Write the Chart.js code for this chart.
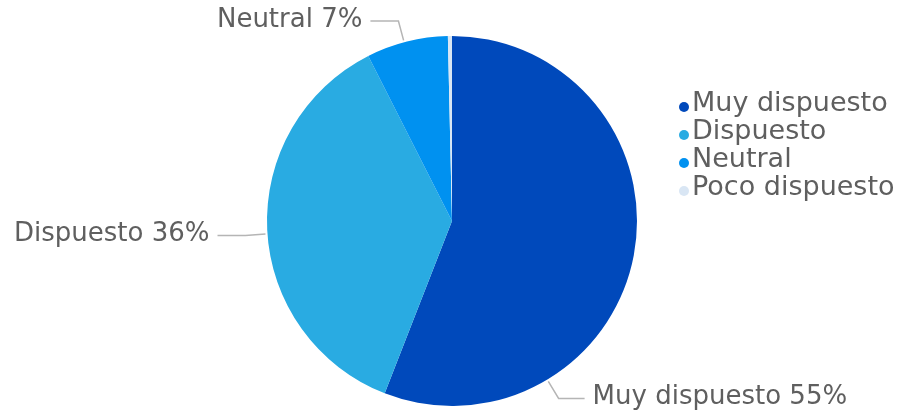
<!DOCTYPE html>
<html>
<head>
<meta charset="utf-8">
<script src="https://cdn.jsdelivr.net/npm/chart.js@4"></script>
<style>
  html, body { margin: 0; padding: 0; background: #fff; }
  canvas { display: block; }
</style>
</head>
<body>
<canvas id="pieChart" width="903" height="413"></canvas>
<script>
const categories = ['Muy dispuesto', 'Dispuesto', 'Neutral', 'Poco dispuesto'];
const shares = [55, 36, 7, 0.35];
const sliceColors = ['#0049BB', '#29ABE2', '#0091F0', '#D9E6F4'];

const FONT = '"DejaVu Sans", sans-serif';
const TEXT_COLOR = '#5f5f5f';

// outside labels with elbow leader lines
const outsideLabels = {
  id: 'outsideLabels',
  afterDatasetsDraw(chart, args, opts) {
    const ctx = chart.ctx;
    const meta = chart.getDatasetMeta(0);
    ctx.save();
    ctx.font = opts.fontSize + 'px ' + FONT;
    ctx.textBaseline = 'middle';
    meta.data.forEach((arc, i) => {
      if (!opts.show[i]) return;
      const { x, y, outerRadius, startAngle, endAngle } = arc.getProps(['x', 'y', 'outerRadius', 'startAngle', 'endAngle'], true);
      let a = (startAngle + endAngle) / 2;
      if (opts.angle[i] != null) a = (opts.angle[i] - 90) * Math.PI / 180;
      const p0 = { x: x + Math.cos(a) * (outerRadius + 2), y: y + Math.sin(a) * (outerRadius + 2) };
      const p1 = { x: x + Math.cos(a) * (outerRadius + 22), y: y + Math.sin(a) * (outerRadius + 22) };
      const right = Math.cos(a) >= 0;
      const p2 = { x: p1.x + (right ? 26 : -28), y: p1.y };
      ctx.strokeStyle = '#b5b5b5';
      ctx.lineWidth = 1.5;
      ctx.beginPath();
      ctx.moveTo(p0.x, p0.y);
      ctx.lineTo(p1.x, p1.y);
      ctx.lineTo(p2.x, p2.y);
      ctx.stroke();
      ctx.fillStyle = TEXT_COLOR;
      ctx.textAlign = right ? 'left' : 'right';
      const txt = categories[i] + ' ' + shares[i] + '%';
      ctx.fillText(txt, p2.x + (right ? 8 : -8), p2.y - 1);
    });
    ctx.restore();
  }
};

// legend on the right with small round markers
const sideLegend = {
  id: 'sideLegend',
  afterDraw(chart, args, opts) {
    const ctx = chart.ctx;
    ctx.save();
    ctx.font = opts.fontSize + 'px ' + FONT;
    ctx.textBaseline = 'middle';
    ctx.textAlign = 'left';
    categories.forEach((c, i) => {
      const y = opts.top + i * opts.rowHeight;
      ctx.fillStyle = sliceColors[i];
      ctx.beginPath();
      ctx.arc(opts.left, y + 3, 5, 0, Math.PI * 2);
      ctx.fill();
      ctx.fillStyle = TEXT_COLOR;
      ctx.fillText(c, opts.left + 8, y);
    });
    ctx.restore();
  }
};

new Chart(document.getElementById('pieChart'), {
  type: 'pie',
  data: {
    labels: categories,
    datasets: [{
      data: shares,
      backgroundColor: sliceColors,
      borderWidth: 0
    }]
  },
  options: {
    responsive: false,
    animation: false,
    layout: { padding: { top: 36, bottom: 7, left: 267, right: 266 } },
    plugins: {
      legend: { display: false },
      tooltip: { enabled: false },
      outsideLabels: { fontSize: 26, show: [true, true, true, false], angle: [149, 266, 345, null] },
      sideLegend: { fontSize: 27, left: 684, top: 104, rowHeight: 28 }
    }
  },
  plugins: [outsideLabels, sideLegend]
});
</script>
</body>
</html>
